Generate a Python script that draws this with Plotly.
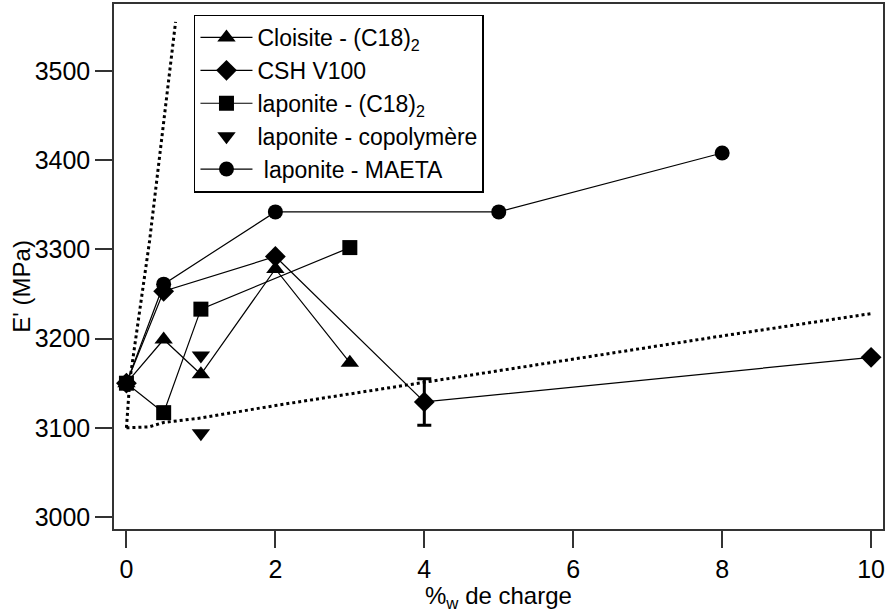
import plotly.graph_objects as go

# wt% filler vs E' (MPa)
x_cloisite = [0, 0.5, 1, 2, 3]
e_cloisite = [3150, 3199, 3160, 3278, 3173]

x_csh = [0, 0.5, 2, 4, 10]
e_csh = [3150, 3253, 3292, 3129, 3179]

x_csh_err = [4]
e_csh_err = [3129]
err_csh = [26]

x_lap_c18 = [0, 0.5, 1, 3]
e_lap_c18 = [3150, 3117, 3233, 3302]

x_lap_copo = [1, 1]
e_lap_copo = [3181, 3094]

x_lap_maeta = [0, 0.5, 2, 5, 8]
e_lap_maeta = [3150, 3261, 3342, 3342, 3408]

# dotted model curves
x_model_low = [0, 0.3, 0.5, 1, 2, 4, 6, 8, 10]
e_model_low = [3100, 3101, 3106, 3111, 3125, 3151, 3177, 3203, 3228]
x_model_high = [0, 0.045, 0.31, 0.49, 0.66]
e_model_high = [3100, 3153, 3309, 3434, 3555]

x_ticks = [0, 2, 4, 6, 8, 10]
y_ticks = [3000, 3100, 3200, 3300, 3400, 3500]

FONT = "Arial, 'Liberation Sans', sans-serif"
INK = "black"

fig = go.Figure()

for xs, ys in [(x_model_high, e_model_high), (x_model_low, e_model_low)]:
    fig.add_trace(go.Scatter(
        x=xs, y=ys, mode="lines", showlegend=False, hoverinfo="skip",
        line=dict(color=INK, width=3, dash="3px,3px"),
    ))

line = dict(color=INK, width=1.2)
series = [
    ("Cloisite - (C18)<sub>2</sub>", x_cloisite, e_cloisite, "triangle-up", 16, "lines+markers"),
    ("CSH V100", x_csh, e_csh, "diamond", 16, "lines+markers"),
    ("laponite - (C18)<sub>2</sub>", x_lap_c18, e_lap_c18, "square", 15, "lines+markers"),
    ("laponite - copolymère", x_lap_copo, e_lap_copo, "triangle-down", 16, "markers"),
    (" laponite - MAETA", x_lap_maeta, e_lap_maeta, "circle", 15, "lines+markers"),
]
for name, xs, ys, sym, size, mode in series:
    fig.add_trace(go.Scatter(
        x=xs, y=ys, name=name, mode=mode, line=line,
        marker=dict(symbol=sym, size=size, color=INK, line=dict(width=0)),
    ))

# error bar on the CSH V100 point at 4 %
fig.add_trace(go.Scatter(
    x=x_csh_err, y=e_csh_err, mode="markers", showlegend=False,
    marker=dict(size=1, color=INK, opacity=0),
    error_y=dict(type="data", array=err_csh, color=INK, thickness=3, width=7),
))

axis_common = dict(
    showline=True, linecolor="#333", linewidth=1.5, mirror=True,
    ticks="outside", ticklen=17, tickwidth=1.5, tickcolor="#333",
    showgrid=False, zeroline=False,
    tickfont=dict(family=FONT, size=25, color=INK),
)

fig.update_layout(
    width=887, height=613,
    margin=dict(l=114, r=4, t=2, b=84),
    paper_bgcolor="white", plot_bgcolor="white",
    font=dict(family=FONT, color=INK),
    xaxis=dict(range=[-0.167, 10.16], tickvals=x_ticks, **axis_common),
    yaxis=dict(range=[2986.6, 3575], tickvals=y_ticks, **axis_common),
    legend=dict(
        x=0.104, y=0.98, xanchor="left", yanchor="top",
        bgcolor="white", bordercolor=INK, borderwidth=1.5,
        font=dict(family=FONT, size=23, color=INK),
        itemwidth=52, tracegroupgap=0,
    ),
)

fig.add_annotation(
    text="E' (MPa)", textangle=-90, showarrow=False,
    xref="paper", yref="paper", x=-0.12, y=0.463,
    xanchor="center", yanchor="middle",
    font=dict(family=FONT, size=24, color=INK),
)
fig.add_annotation(
    text="%<sub>w</sub> de charge", showarrow=False,
    xref="paper", yref="paper", x=0.5, y=-0.131,
    xanchor="center", yanchor="middle",
    font=dict(family=FONT, size=24, color=INK),
)

# page body has a default 8px margin; drop it so the figure sits at the window origin
fig.write_html(
    "out.html",
    config={"displayModeBar": False},
    post_script="document.body.style.margin='0';",
)
